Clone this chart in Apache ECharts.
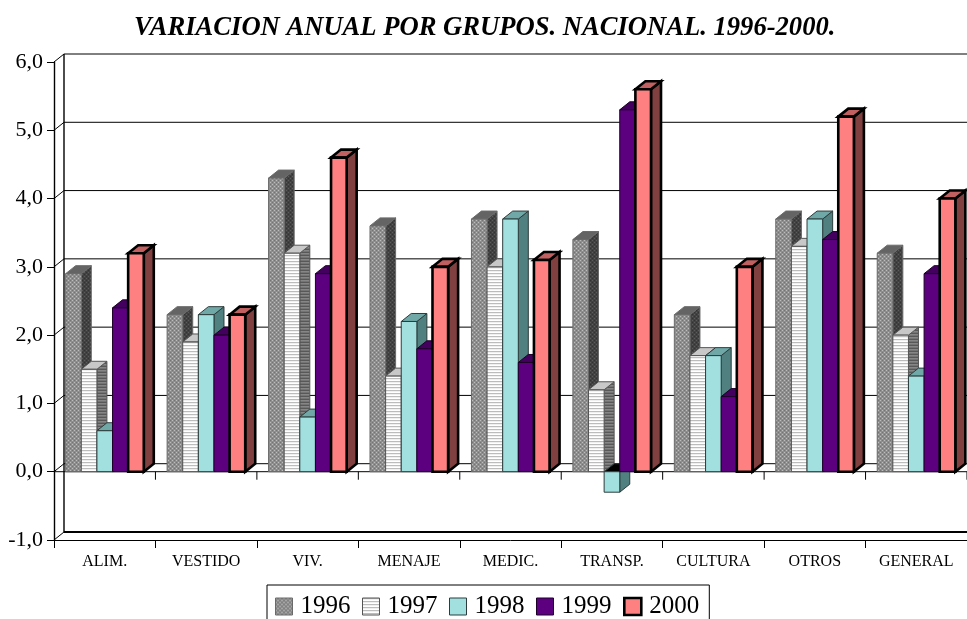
<!DOCTYPE html>
<html><head><meta charset="utf-8">
<style>html,body{margin:0;padding:0;background:#fff;overflow:hidden}#c{width:967px;height:619px}</style>
<script src="https://cdn.jsdelivr.net/npm/echarts@6/dist/echarts.min.js"></script>
</head><body><div id="c"></div>
<script>
const categories = ['ALIM.','VESTIDO','VIV.','MENAJE','MEDIC.','TRANSP.','CULTURA','OTROS','GENERAL'];
const yTicks = [-1,0,1,2,3,4,5,6];
const years = ['1996','1997','1998','1999','2000'];
const v1996 = [2.9,2.3,4.3,3.6,3.7,3.4,2.3,3.7,3.2];
const v1997 = [1.5,1.9,3.2,1.4,3.0,1.2,1.7,3.3,2.0];
const v1998 = [0.6,2.3,0.8,2.2,3.7,-0.3,1.7,3.7,1.4];
const v1999 = [2.4,2.0,2.9,1.8,1.6,5.3,1.1,3.4,2.9];
const v2000 = [3.2,2.3,4.6,3.0,3.1,5.6,3.0,5.2,4.0];
const values = [v1996,v1997,v1998,v1999,v2000];

function tile(w,h,bg,dots){
  const c=document.createElement('canvas');c.width=w;c.height=h;
  const g=c.getContext('2d');g.fillStyle=bg;g.fillRect(0,0,w,h);
  dots.forEach(d=>{g.fillStyle=d[0];g.fillRect(d[1],d[2],d[3]||1,d[4]||1);});
  return {image:c,repeat:'repeat'};
}
const fronts=[
  tile(4,4,'#8e8e8e',[['#bdbdbd',0,0],['#bdbdbd',2,2],['#747474',2,0],['#747474',0,2]]),
  tile(3,3,'#ffffff',[['#bcbcbc',0,0,3,1],['#f0f0f0',0,1,3,1]]),
  '#a2e0e0','#5c0080','#ff8080'];
const sides=[
  tile(4,4,'#424242',[['#5c5c5c',0,0],['#5c5c5c',2,2],['#333333',2,0],['#333333',0,2]]),
  tile(3,3,'#747474',[['#585858',0,0,3,1],['#868686',0,1,3,1]]),
  '#508080','#2e0040','#804040'];
const tops=['#646464','#c8c8c8','#70a8a8','#44005e','#c06060'];
const borders=['#6a6a6a','#555555','#2c3c3c','#1c0028','#000000'];
const widths=[1,1,1,1,2.6];
const DX=10,DY=8;

function barRender(si){
  return function(params,api){
    const cat=api.value(0),val=api.value(1);
    const band=api.size([1,0])[0];
    const w=band*0.154;
    const c=api.coord([cat,0]);
    const x=c[0]-2.5*w+si*w;
    const y0=c[1];
    const yv=api.coord([cat,val])[1];
    const ytop=Math.min(y0,yv),ybot=Math.max(y0,yv);
    const st={stroke:borders[si],lineWidth:widths[si],lineJoin:'miter'};
    const poly=(pts,fill)=>({type:'polygon',shape:{points:pts},style:Object.assign({fill:fill},st)});
    return {type:'group',children:[
      poly([[x+w,ytop],[x+w+DX,ytop-DY],[x+w+DX,ybot-DY],[x+w,ybot]],sides[si]),
      poly([[x,ytop],[x+DX,ytop-DY],[x+w+DX,ytop-DY],[x+w,ytop]],val<0?'#000000':tops[si]),
      {type:'rect',shape:{x:x,y:ytop,width:w,height:ybot-ytop},style:Object.assign({fill:fronts[si]},st)}
    ]};
  };
}
function line(x1,y1,x2,y2,lw){
  return {type:'line',shape:{x1,y1,x2,y2},style:{stroke:'#000',lineWidth:lw||1}};
}
function wallRender(params,api){
  const t=api.value(1);
  const p=api.coord([0,t]);
  const band=api.size([1,0])[0];
  const left=p[0]-band/2,y=p[1];
  const right=left+band*categories.length;
  const kids=[];
  kids.push(line(left,y,left+DX,y-DY,1));
  const lw=t===-1?2:1;
  kids.push(line(left+DX,y-DY,right+DX,y-DY,lw));
  if(t===6){ kids.push(line(left+DX,y-DY,left+DX,api.coord([0,-1])[1]-DY,1.4)); }
  if(t===0){
    kids.push(line(left,y,right,y,1));
    categories.forEach((n,i)=>{
      const tx=left+band*i;
      if(i>0) kids.push(line(tx,y,tx,y+8,1));
    });
    kids.push(line(right,y,right,y+8,1));
  }
  return {type:'group',children:kids};
}
const series=[{
  type:'custom',name:'walls',renderItem:wallRender,silent:true,
  data:yTicks.map(t=>[0,t]),encode:{x:0,y:1},z:1
}];
years.forEach((yr,si)=>{
  series.push({
    type:'custom',name:yr,renderItem:barRender(si),silent:true,
    itemStyle:{color:fronts[si]},
    data:values[si].map((v,i)=>[i,v]),encode:{x:0,y:1},z:2
  });
});
const chart=echarts.init(document.getElementById('c'),null,{renderer:'canvas',width:967,height:619});
chart.setOption({
  animation:false,backgroundColor:'#fff',
  title:{text:'VARIACION ANUAL POR GRUPOS. NACIONAL. 1996-2000.',left:134,top:15,padding:0,
    textStyle:{fontFamily:'Liberation Serif',fontSize:26.6,fontWeight:'bold',fontStyle:'italic',color:'#000'}},
  legend:{
    data:years.map((y,i)=>({name:y,icon:'rect',itemStyle:{color:fronts[i],borderColor:borders[i],borderWidth:i===4?2.6:1}})),
    left:267,top:585,selectedMode:false,orient:'horizontal',
    itemWidth:17,itemHeight:17,itemGap:11.5,
    padding:[9,10,20,8],
    borderColor:'#000',borderWidth:1,backgroundColor:'#fff',
    textStyle:{fontFamily:'Liberation Serif',fontSize:25,color:'#000',padding:[0,0,0,3]}
  },
  grid:{left:54,top:62,width:913.5,height:478,containLabel:false},
  xAxis:{type:'category',data:categories,
    axisLine:{onZero:false,lineStyle:{color:'#000',width:1}},
    axisTick:{show:true,length:8,lineStyle:{color:'#000'}},
    splitLine:{show:false},
    axisLabel:{interval:0,margin:14,fontFamily:'Liberation Serif',fontSize:16,color:'#000'}},
  yAxis:{type:'value',min:-1,max:6,interval:1,
    axisLine:{show:true,lineStyle:{color:'#000',width:1.4}},
    axisTick:{show:true,length:7,lineStyle:{color:'#000'}},
    splitLine:{show:false},
    axisLabel:{margin:11,fontFamily:'Liberation Serif',fontSize:22,color:'#000',
      formatter:v=>v.toFixed(1).replace('.',',')}},
  series:series
});
</script></body></html>
